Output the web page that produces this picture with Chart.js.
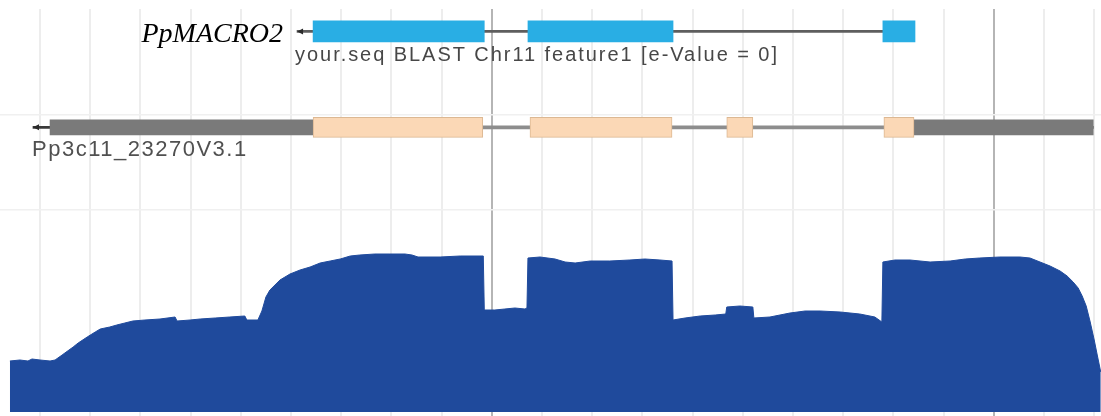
<!DOCTYPE html>
<html>
<head>
<meta charset="utf-8">
<script src="https://cdn.jsdelivr.net/npm/chart.js@4.4.0/dist/chart.umd.min.js"></script>
<style>
  html, body { margin: 0; padding: 0; background: #ffffff; }
  #view { position: relative; width: 1101px; height: 416px; overflow: hidden; }
  #covBox { position: absolute; left: 0; top: 210px; width: 1101px; height: 206px; }
  #trackBox { position: absolute; left: 0; top: 0; width: 1101px; height: 212px; }
</style>
</head>
<body>
<div id="view">
  <div id="covBox"><canvas id="cov" width="1101" height="206"></canvas></div>
  <div id="trackBox"><canvas id="tracks" width="1101" height="212"></canvas></div>
</div>
<script>
// Read depth along the locus (position in bp from window start)
const covPos = [40, 60, 76, 84, 100, 120, 130, 144, 166, 176, 194, 210, 220, 239, 253, 269, 285, 309, 339, 369,
  373, 399, 419, 449, 478, 508, 512, 534, 542, 550, 558, 578, 598, 618, 638, 658, 678, 698, 718, 737,
  767, 797, 827, 841, 853, 897, 937, 983, 985, 1006, 1026, 1046, 1066, 1070, 1072, 1096, 1126, 1146, 1166, 1196,
  1235, 1275, 1305, 1335, 1359, 1361, 1385, 1415, 1445, 1466, 1468, 1494, 1520, 1522, 1554, 1594, 1624, 1654, 1694, 1733,
  1763, 1777, 1779, 1803, 1833, 1873, 1913, 1943, 1972, 2012, 2052, 2072, 2092, 2112, 2132, 2146, 2158, 2168, 2176, 2184,
  2192, 2200, 2206, 2213];
const covDepth = [51, 52, 51, 53, 52, 51, 52, 57, 65, 69, 75, 80, 83, 85, 87, 89, 91, 92, 93, 95,
  91, 92, 93, 94, 95, 96, 92, 92, 101, 115, 122, 132, 138, 142, 145, 149, 151, 153, 156, 157,
  158, 158, 158, 157, 155, 155, 156, 156, 102, 102, 103, 104, 103, 104, 154, 155, 153, 150, 149, 151,
  151, 152, 153, 152, 151, 92, 94, 96, 97, 98, 105, 106, 105, 94, 95, 99, 101, 101, 100, 98,
  95, 90, 150, 152, 152, 150, 151, 153, 154, 155, 155, 154, 150, 146, 141, 136, 130, 124, 116, 106,
  90, 72, 57, 40];

// BLAST hit blocks (bp)
const hitStarts = [644, 1072, 1779];
const hitEnds = [985, 1361, 1843];
const hitSpan = [612, 1779];

// Gene model: coding exons, UTR blocks and full extent (bp)
const cdsStarts = [644, 1076, 1468, 1781];
const cdsEnds = [982, 1359, 1520, 1841];
const utrStarts = [120, 1841];
const utrEnds = [644, 2198];
const geneSpan = [86, 2198];

// Track texts
const trackNames = ['PpMACRO2', 'Pp3c11_23270V3.1'];
const hitCaption = 'your.seq BLAST Chr11 feature1 [e-Value = 0]';

// ---- shared layout ----
const X_MIN = 20.3, X_MAX = 2213.5;
const LANE_HIT = 0.12, LANE_GENE = 1.13;

function xAxis() {
  return {
    type: 'linear', min: X_MIN, max: X_MAX, offset: false,
    afterBuildTicks: s => {
      const t = [];
      for (let v = 100; v < X_MAX; v += 100) t.push({ value: v });
      s.ticks = t;
    },
    ticks: { display: false },
    grid: {
      offset: false, drawTicks: false, lineWidth: 2,
      color: c => (c.tick && c.tick.value % 1000 === 0) ? '#b5b5b5' : '#ededed'
    },
    border: { display: false }
  };
}

function arrowHead(ctx, px, py, len, half, color) {
  ctx.fillStyle = color;
  ctx.beginPath();
  ctx.moveTo(px, py);
  ctx.lineTo(px + len, py - half);
  ctx.lineTo(px + len, py + half);
  ctx.closePath();
  ctx.fill();
}

const trackDecor = {
  id: 'trackDecor',
  afterDatasetsDraw(chart) {
    const { ctx, scales: { x, y } } = chart;
    const hx = x.getPixelForValue(hitSpan[0]);
    const hy = y.getPixelForValue(LANE_HIT);
    const gx = x.getPixelForValue(geneSpan[0]);
    const gy = y.getPixelForValue(LANE_GENE);
    ctx.save();
    arrowHead(ctx, hx, hy, 6, 3, '#2a2a2a');
    arrowHead(ctx, gx, gy, 6, 3, '#2a2a2a');

    ctx.textBaseline = 'alphabetic';
    ctx.fillStyle = '#000000';
    ctx.font = 'italic 28px "Liberation Serif", "Times New Roman", serif';
    ctx.textAlign = 'right';
    ctx.fillText(trackNames[0], hx - 14, hy + 11);

    ctx.textAlign = 'left';
    ctx.fillStyle = '#474747';
    ctx.font = '20px "Liberation Sans", Arial, sans-serif';
    ctx.letterSpacing = '1.95px';
    ctx.fillText(hitCaption, hx - 2, hy + 29.5);

    ctx.fillStyle = '#505050';
    ctx.font = '22px "Liberation Sans", Arial, sans-serif';
    ctx.letterSpacing = '1.5px';
    ctx.fillText(trackNames[1], gx - 1, gy + 29);
    ctx.restore();
  }
};

const bar = (data, thickness, bg, order, extra) => Object.assign({
  data, barThickness: thickness, backgroundColor: bg, grouped: false,
  borderSkipped: false, borderWidth: 0, order
}, extra || {});

new Chart(document.getElementById('tracks'), {
  type: 'bar',
  data: {
    datasets: [
      bar(hitStarts.map((s, i) => ({ x: [s, hitEnds[i]], y: LANE_HIT })), 21, '#29aee4', 1),
      bar([{ x: [hitSpan[0], hitSpan[1]], y: LANE_HIT }], 2, '#5e5e5e', 3),
      bar(cdsStarts.map((s, i) => ({ x: [s, cdsEnds[i]], y: LANE_GENE })), 20, '#fbd8b6', 1,
        { borderWidth: 1, borderColor: '#dcb893' }),
      bar(utrStarts.map((s, i) => ({ x: [s, utrEnds[i]], y: LANE_GENE })), 15, '#7a7a7a', 2),
      bar([{ x: [cdsStarts[0], cdsEnds[cdsEnds.length - 1]], y: LANE_GENE }], 3, '#8d8d8d', 4),
      bar([{ x: [geneSpan[0], geneSpan[1]], y: LANE_GENE }], 2, '#3a3a3a', 5)
    ]
  },
  options: {
    indexAxis: 'y',
    responsive: false,
    animation: false,
    events: [],
    layout: { padding: { top: 9, bottom: 2, left: 0, right: 0 } },
    plugins: { legend: { display: false }, tooltip: { enabled: false } },
    scales: {
      x: xAxis(),
      y: {
        type: 'linear', reverse: true, min: -0.116, max: 2, offset: false,
        afterBuildTicks: s => { s.ticks = [{ value: 1 }, { value: 2 }]; },
        ticks: { display: false },
        grid: { offset: false, drawTicks: false, color: '#f0f0f0', lineWidth: 1.5 },
        border: { display: false }
      }
    }
  },
  plugins: [trackDecor]
});

new Chart(document.getElementById('cov'), {
  type: 'line',
  data: {
    datasets: [{
      data: covPos.map((p, i) => ({ x: p, y: covDepth[i] })),
      fill: 'origin',
      backgroundColor: '#1f4a9c',
      borderColor: '#1f4a9c',
      borderWidth: 1,
      pointRadius: 0,
      tension: 0
    }]
  },
  options: {
    responsive: false,
    animation: false,
    events: [],
    layout: { padding: 0 },
    plugins: { legend: { display: false }, tooltip: { enabled: false } },
    scales: {
      x: xAxis(),
      y: { type: 'linear', min: -4, max: 202, display: false }
    }
  }
});
</script>
</body>
</html>
